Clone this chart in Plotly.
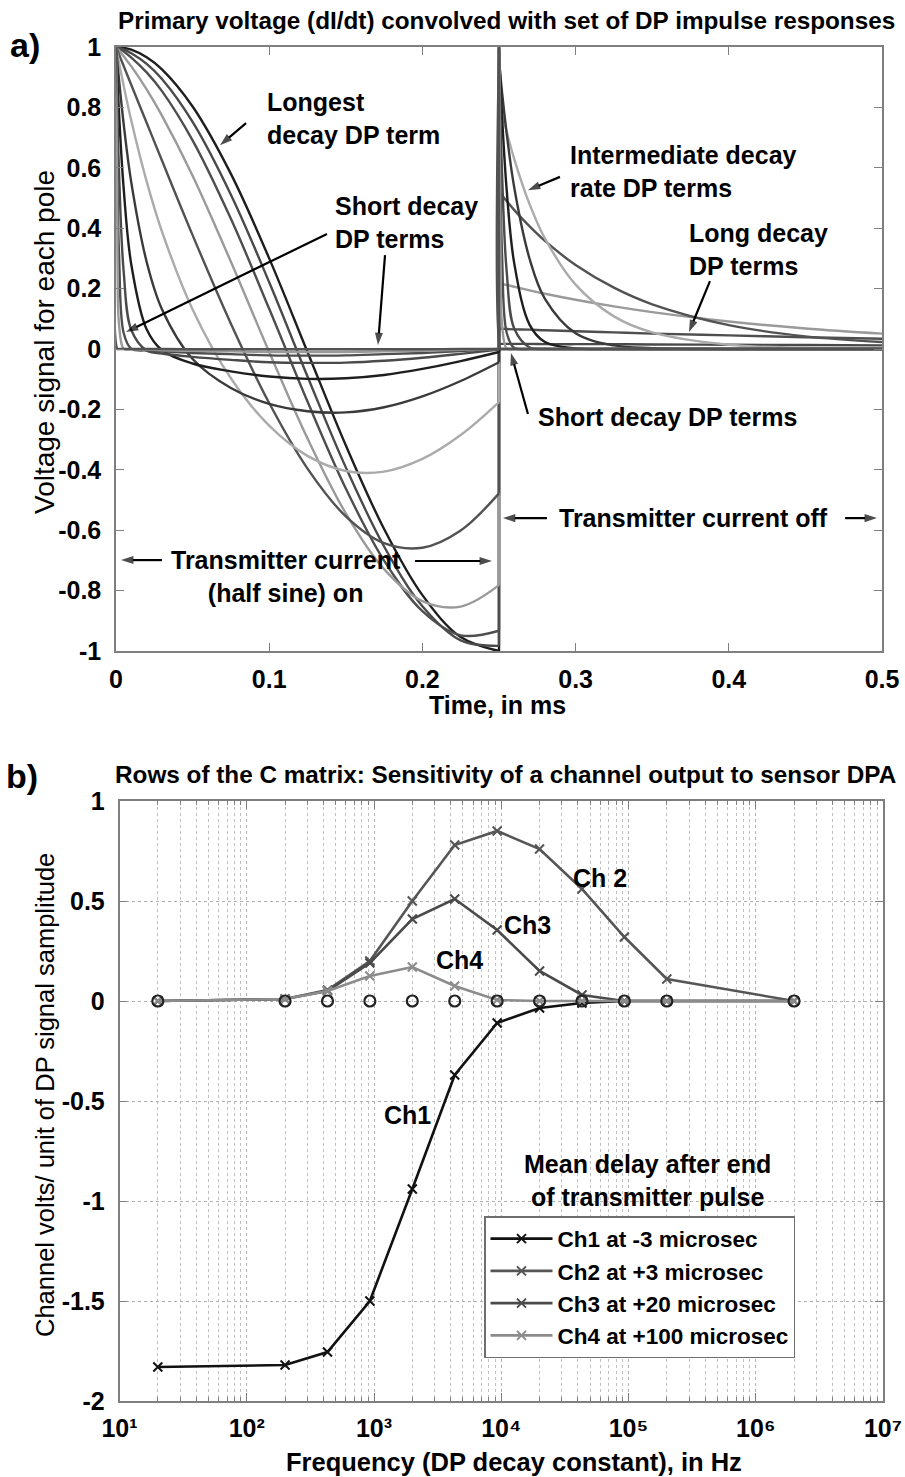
import plotly.graph_objects as go

FONT = "Liberation Sans, Arial, sans-serif"
W, H = 905, 1477

# ---------------- Panel a data (time in ms, voltage per pole) ----------------
T_ON = [0, 0.001, 0.002, 0.005, 0.01, 0.02, 0.03, 0.05, 0.075, 0.1, 0.125, 0.15, 0.175, 0.2, 0.225, 0.25]
T_OFF = [0.25, 0.251, 0.252, 0.255, 0.26, 0.27, 0.28, 0.3, 0.325, 0.35, 0.4, 0.45, 0.5]

Y_ON_20HZ = [1.0, 1.0, 0.999, 0.997, 0.991, 0.966, 0.926, 0.803, 0.580, 0.300, -0.010, -0.319, -0.596, -0.815, -0.954, -1.0]
Y_ON_200HZ = [1.0, 0.999, 0.997, 0.992, 0.979, 0.944, 0.894, 0.752, 0.511, 0.221, -0.091, -0.392, -0.654, -0.852, -0.965, -0.983]
Y_ON_431HZ = [1.0, 0.997, 0.994, 0.985, 0.965, 0.916, 0.854, 0.691, 0.431, 0.133, -0.174, -0.462, -0.701, -0.868, -0.948, -0.933]
Y_ON_928HZ = [1.0, 0.994, 0.988, 0.969, 0.936, 0.860, 0.773, 0.574, 0.289, -0.010, -0.296, -0.544, -0.729, -0.835, -0.853, -0.782]
Y_ON_2KHZ = [1.0, 0.988, 0.975, 0.937, 0.874, 0.749, 0.624, 0.377, 0.084, -0.179, -0.396, -0.554, -0.643, -0.658, -0.601, -0.478]
Y_ON_4KHZ = [1.0, 0.973, 0.947, 0.872, 0.756, 0.555, 0.389, 0.131, -0.097, -0.254, -0.354, -0.404, -0.406, -0.364, -0.285, -0.176]
Y_ON_9KHZ = [1.0, 0.943, 0.890, 0.745, 0.551, 0.289, 0.132, -0.033, -0.129, -0.182, -0.206, -0.210, -0.193, -0.157, -0.106, -0.044]
Y_ON_20KHZ = [1.0, 0.882, 0.778, 0.532, 0.279, 0.065, -0.004, -0.048, -0.074, -0.091, -0.099, -0.097, -0.086, -0.066, -0.040, -0.010]
Y_ON_43KHZ = [1.0, 0.763, 0.583, 0.257, 0.063, -0.005, -0.015, -0.026, -0.036, -0.044, -0.046, -0.045, -0.039, -0.029, -0.016, -0.002]
Y_ON_93KHZ = [1.0, 0.558, 0.311, 0.053, 0.001, -0.005, -0.008, -0.013, -0.017, -0.021, -0.022, -0.021, -0.017, -0.013, -0.007, 0.0]
Y_ON_200KHZ = [1.0, 0.285, 0.081, 0.001, -0.001, -0.002, -0.004, -0.006, -0.008, -0.010, -0.010, -0.010, -0.008, -0.006, -0.003, 0.0]
Y_ON_2MHZ = [1.0, 0.0, 0.0, 0.0, 0.0, 0.0, 0.0, -0.001, -0.001, -0.001, -0.001, -0.001, -0.001, -0.001, 0.0, 0.0]

Y_OFF_20HZ = [0.0, 0.0, 0.0, 0.0, 0.0, 0.0, 0.0, 0.0, 0.0, 0.0, 0.0, 0.0, 0.0]
Y_OFF_200HZ = [0.017, 0.017, 0.017, 0.017, 0.017, 0.017, 0.016, 0.016, 0.016, 0.015, 0.014, 0.013, 0.012]
Y_OFF_431HZ = [0.067, 0.067, 0.067, 0.066, 0.065, 0.064, 0.062, 0.059, 0.055, 0.051, 0.045, 0.039, 0.034]
Y_OFF_928HZ = [0.218, 0.217, 0.216, 0.212, 0.206, 0.194, 0.183, 0.163, 0.141, 0.122, 0.091, 0.068, 0.051]
Y_OFF_2KHZ = [0.522, 0.515, 0.509, 0.490, 0.460, 0.406, 0.358, 0.278, 0.203, 0.148, 0.079, 0.042, 0.023]
Y_OFF_4KHZ = [0.824, 0.802, 0.780, 0.720, 0.628, 0.479, 0.366, 0.213, 0.108, 0.055, 0.014, 0.004, 0.001]
Y_OFF_9KHZ = [0.956, 0.901, 0.850, 0.714, 0.533, 0.298, 0.166, 0.052, 0.012, 0.003, 0.0, 0.0, 0.0]
Y_OFF_20KHZ = [0.990, 0.873, 0.770, 0.528, 0.282, 0.080, 0.023, 0.002, 0.0, 0.0, 0.0, 0.0, 0.0]
Y_OFF_43KHZ = [0.998, 0.761, 0.581, 0.258, 0.067, 0.005, 0.0, 0.0, 0.0, 0.0, 0.0, 0.0, 0.0]
Y_OFF_93KHZ = [0.999, 0.558, 0.311, 0.054, 0.003, 0.0, 0.0, 0.0, 0.0, 0.0, 0.0, 0.0, 0.0]
Y_OFF_200KHZ = [1.0, 0.285, 0.081, 0.002, 0.0, 0.0, 0.0, 0.0, 0.0, 0.0, 0.0, 0.0, 0.0]
Y_OFF_2MHZ = [1.0, 0.0, 0.0, 0.0, 0.0, 0.0, 0.0, 0.0, 0.0, 0.0, 0.0, 0.0, 0.0]

POLE_COLORS = ["#1e1e1e", "#4a4a4a", "#4e4e4e", "#9a9a9a", "#525252", "#ababab",
               "#3a3a3a", "#1e1e1e", "#4a4a4a", "#4e4e4e", "#9a9a9a", "#525252"]

A_XTICKS = [0, 0.1, 0.2, 0.3, 0.4, 0.5]
A_XTICKTEXT = ["0", "0.1", "0.2", "0.3", "0.4", "0.5"]
A_YTICKS = [1, 0.8, 0.6, 0.4, 0.2, 0, -0.2, -0.4, -0.6, -0.8, -1]
A_YTICKTEXT = ["1", "0.8", "0.6", "0.4", "0.2", "0", "-0.2", "-0.4", "-0.6", "-0.8", "-1"]

# ---------------- Panel b data ----------------
FREQ_HZ = [20, 200, 431, 928, 2000, 4309, 9283, 20000, 43089, 92832, 200000, 2000000]
CH1 = [-1.83, -1.82, -1.755, -1.50, -0.94, -0.37, -0.11, -0.035, -0.01, 0.0, 0.0, 0.0]
CH2 = [0.0, 0.01, 0.055, 0.20, 0.50, 0.78, 0.85, 0.76, 0.56, 0.32, 0.11, 0.0]
CH3 = [0.0, 0.01, 0.05, 0.19, 0.41, 0.51, 0.355, 0.15, 0.03, 0.0, 0.0, 0.0]
CH4 = [0.0, 0.01, 0.05, 0.125, 0.17, 0.075, 0.005, 0.0, 0.0, 0.0, 0.0, 0.0]
ZERO_MARKS = [0, 0, 0, 0, 0, 0, 0, 0, 0, 0, 0, 0]
CH_NAMES = ["Ch1 at -3 microsec", "Ch2 at +3 microsec", "Ch3 at +20 microsec", "Ch4 at +100 microsec"]
CH_COLORS = ["#111111", "#565656", "#4a4a4a", "#8c8c8c"]

B_XTICKS = [1e1, 1e2, 1e3, 1e4, 1e5, 1e6, 1e7]
B_XTICKTEXT = ["10\u00b9", "10\u00b2", "10\u00b3", "10\u2074", "10\u2075", "10\u2076", "10\u2077"]
B_YTICKS = [1, 0.5, 0, -0.5, -1, -1.5, -2]
B_YTICKTEXT = ["1", "0.5", "0", "-0.5", "-1", "-1.5", "-2"]

# annotation arrows of panel a: (head_t, head_v, tail_t, tail_v)
ARROWS_A = [
    (0.0679, 0.675, 0.0849, 0.748),
    (0.0065, 0.056, 0.1377, 0.381),
    (0.171, 0.013, 0.1756, 0.311),
    (0.2689, 0.526, 0.2898, 0.570),
    (0.374, 0.056, 0.3877, 0.225),
    (0.2578, -0.013, 0.2689, -0.215),
    (0.0033, -0.699, 0.030, -0.699),
    (0.2454, -0.702, 0.1952, -0.702),
    (0.2526, -0.560, 0.2813, -0.560),
    (0.4967, -0.560, 0.4759, -0.560),
]

fig = go.Figure()

pole_on = [Y_ON_20HZ, Y_ON_200HZ, Y_ON_431HZ, Y_ON_928HZ, Y_ON_2KHZ, Y_ON_4KHZ,
           Y_ON_9KHZ, Y_ON_20KHZ, Y_ON_43KHZ, Y_ON_93KHZ, Y_ON_200KHZ, Y_ON_2MHZ]
pole_off = [Y_OFF_20HZ, Y_OFF_200HZ, Y_OFF_431HZ, Y_OFF_928HZ, Y_OFF_2KHZ, Y_OFF_4KHZ,
            Y_OFF_9KHZ, Y_OFF_20KHZ, Y_OFF_43KHZ, Y_OFF_93KHZ, Y_OFF_200KHZ, Y_OFF_2MHZ]

LW = 2.4
for yon, yoff, col in zip(pole_on, pole_off, POLE_COLORS):
    fig.add_trace(go.Scatter(x=T_ON, y=yon, mode="lines", showlegend=False, hoverinfo="skip",
                             line=dict(color=col, width=LW, shape="spline", smoothing=1),
                             xaxis="x", yaxis="y"))
    fig.add_trace(go.Scatter(x=[T_ON[-1], T_OFF[0]], y=[yon[-1], yoff[0]], mode="lines",
                             showlegend=False, hoverinfo="skip",
                             line=dict(color=col, width=LW), xaxis="x", yaxis="y"))
    fig.add_trace(go.Scatter(x=T_OFF, y=yoff, mode="lines", showlegend=False, hoverinfo="skip",
                             line=dict(color=col, width=LW, shape="spline", smoothing=1),
                             xaxis="x", yaxis="y"))

# arrows drawn as short line traces ending in an arrow-head marker
for hx, hy, tx, ty in ARROWS_A:
    fig.add_trace(go.Scatter(x=[tx, hx], y=[ty, hy], mode="lines+markers", showlegend=False,
                             hoverinfo="skip", line=dict(color="black", width=2.2),
                             marker=dict(symbol=["circle", "arrow"], size=[0, 13], color="black",
                                         angleref="previous", line=dict(width=0)),
                             xaxis="x", yaxis="y"))

for name, ys, col in zip(CH_NAMES, [CH1, CH2, CH3, CH4], CH_COLORS):
    fig.add_trace(go.Scatter(x=FREQ_HZ, y=ys, mode="lines+markers", name=name,
                             line=dict(color=col, width=2.6),
                             marker=dict(symbol="x-thin-open", size=9, color=col,
                                         line=dict(width=2, color=col)),
                             xaxis="x2", yaxis="y2"))
fig.add_trace(go.Scatter(x=FREQ_HZ, y=ZERO_MARKS, mode="markers", showlegend=False,
                         marker=dict(symbol="circle-open", size=11, color="#222222",
                                     line=dict(width=2.2, color="#222222")),
                         xaxis="x2", yaxis="y2"))

TS = 25
tickfont = dict(family=FONT, size=TS, color="black", weight="bold")
common = dict(showline=True, linecolor="#7f7f7f", linewidth=1.5, mirror="ticks", ticks="inside",
              ticklen=8, tickwidth=1.3, tickcolor="#7f7f7f", tickfont=tickfont, zeroline=False,
              automargin=False)

fig.update_layout(
    template="none",
    width=W, height=H, autosize=False,
    margin=dict(l=0, r=0, t=0, b=0, pad=0, autoexpand=False),
    paper_bgcolor="white", plot_bgcolor="white",
    xaxis=dict(domain=[116 / W, 882 / W], range=[0, 0.5], tickmode="array", tickvals=A_XTICKS,
               ticktext=A_XTICKTEXT, anchor="y", showgrid=False, ticklabelstandoff=5, **common),
    yaxis=dict(domain=[1 - 651 / H, 1 - 47 / H], range=[-1, 1], tickmode="array", tickvals=A_YTICKS,
               ticktext=A_YTICKTEXT, anchor="x", showgrid=False, ticklabelstandoff=8, **common),
    xaxis2=dict(type="log", domain=[119.5 / W, 883 / W], range=[1, 7], tickmode="array",
                tickvals=B_XTICKS, ticktext=B_XTICKTEXT, anchor="y2", showgrid=True,
                gridcolor="#b0b0b0", griddash="dot", gridwidth=1, ticklabelstandoff=4,
                minor=dict(dtick="D1", showgrid=True, gridcolor="#c0c0c0", griddash="dot",
                           gridwidth=1, ticks="inside", ticklen=4, tickcolor="#7f7f7f"),
                **common),
    yaxis2=dict(domain=[1 - 1401 / H, 1 - 801 / H], range=[-2, 1], tickmode="array",
                tickvals=B_YTICKS, ticktext=B_YTICKTEXT, anchor="x2", showgrid=True,
                gridcolor="#b0b0b0", griddash="dot", gridwidth=1, ticklabelstandoff=8, **common),
    legend=dict(x=484 / W, y=1 - 1216 / H, xanchor="left", yanchor="top",
                bgcolor="white", bordercolor="#6f6f6f", borderwidth=1.5,
                font=dict(family=FONT, size=22.5, color="black", weight="bold"),
                tracegroupgap=0, itemwidth=62),
    showlegend=True,
)

ann = []


def ptext(text, px, py, size=25, bold=True, angle=0, xanchor="center"):
    ann.append(dict(text=text, xref="paper", yref="paper", x=px / W, y=1 - py / H,
                    xanchor=xanchor, yanchor="middle", showarrow=False, textangle=angle,
                    font=dict(family=FONT, size=size, color="black",
                              weight="bold" if bold else "normal")))


# titles, panel labels, axis titles
ptext("Primary voltage (dI/dt) convolved with set of DP impulse responses", 507, 20, size=24.3)
ptext("Rows of the C matrix: Sensitivity of a channel output to sensor DPA", 505, 774, size=24.3)
ptext("a)", 25, 45, size=34)
ptext("b)", 22, 776, size=34)
ptext("Time, in ms", 497, 705, size=25)
ptext("Frequency (DP decay constant), in Hz", 514, 1462, size=25.5)
ptext("Voltage signal for each pole", 44, 342, size=28, bold=False, angle=-90)
ptext("Channel volts/ unit of DP signal samplitude", 45, 1095, size=25.5, bold=False, angle=-90)


def dtext(text, x, y, xanchor="left", xref="x", yref="y"):
    ann.append(dict(text=text, xref=xref, yref=yref, x=x, y=y, xanchor=xanchor, yanchor="middle",
                    showarrow=False, align="left" if xanchor == "left" else "center",
                    font=dict(family=FONT, size=25, color="black", weight="bold")))


# panel a labels
dtext("Longest<br>decay DP term", 0.0973, 0.762)
dtext("Short decay<br>DP terms", 0.1416, 0.42)
dtext("Intermediate decay<br>rate DP terms", 0.295, 0.588)
dtext("Long decay<br>DP terms", 0.3727, 0.328)
dtext("Short decay DP terms", 0.2742, -0.225)
dtext("Transmitter current off", 0.2879, -0.560)
dtext("Transmitter current<br>(half sine) on", 0.111, -0.752, xanchor="center")

# panel b labels (log axis: x given as log10)
dtext("Ch 2", 4.776, 0.613, xanchor="center", xref="x2", yref="y2")
dtext("Ch3", 4.21, 0.379, xanchor="center", xref="x2", yref="y2")
dtext("Ch4", 3.675, 0.204, xanchor="center", xref="x2", yref="y2")
dtext("Ch1", 3.267, -0.572, xanchor="center", xref="x2", yref="y2")
dtext("Mean delay after end<br>of transmitter pulse", 5.153, -0.898, xanchor="center", xref="x2", yref="y2")

fig.update_layout(annotations=ann)
fig.write_html("out.html")
